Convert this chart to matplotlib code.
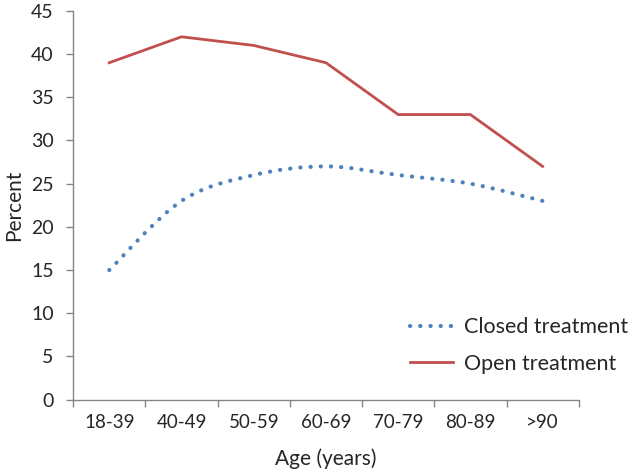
import matplotlib
matplotlib.use("Agg")
import matplotlib.pyplot as plt
from matplotlib.path import Path
from matplotlib.patches import PathPatch
from matplotlib.lines import Line2D
import numpy as np

categories = ["18-39", "40-49", "50-59", "60-69", "70-79", "80-89", ">90"]
closed_treatment = [15, 23, 26, 27, 26, 25, 23]
open_treatment = [39, 42, 41, 39, 33, 33, 27]

plt.rcParams['font.family'] = ['Lato', 'DejaVu Sans']

fig = plt.figure(figsize=(6.36, 4.73), dpi=100)
ax = fig.add_axes([0.115, 0.155, 0.795, 0.822])

x = np.arange(len(categories))
blue = "#4F81BD"
red = "#C0504D"
dotstyle = (0, (0.05, 2.4))

# smoothed bezier path for closed treatment (Excel-style smoothing)
ys = np.array(closed_treatment, dtype=float)
verts = [(x[0], ys[0])]
codes = [Path.MOVETO]
n = len(x)
for i in range(n - 1):
    p0 = np.array([x[max(i - 1, 0)], ys[max(i - 1, 0)]])
    p1 = np.array([x[i], ys[i]])
    p2 = np.array([x[i + 1], ys[i + 1]])
    p3 = np.array([x[min(i + 2, n - 1)], ys[min(i + 2, n - 1)]])
    c1 = p1 + (p2 - p0) / 6.0
    c2 = p2 - (p3 - p1) / 6.0
    verts += [tuple(c1), tuple(c2), tuple(p2)]
    codes += [Path.CURVE4, Path.CURVE4, Path.CURVE4]
patch = PathPatch(Path(verts, codes), facecolor="none", edgecolor=blue,
                  lw=3.0, linestyle=dotstyle)
patch.set_capstyle("round")
ax.add_patch(patch)

ax.plot(x, open_treatment, color=red, lw=2.0, solid_joinstyle="miter")

ax.set_xlim(-0.5, n - 0.5)
ax.set_ylim(0, 45)
ax.set_yticks(np.arange(0, 46, 5))
ax.set_xticks(x)
ax.set_xticklabels(categories)
ax.set_xticks(np.arange(-0.5, n, 1), minor=True)
ax.tick_params(axis="x", which="major", length=0, pad=10, labelsize=13.5, colors="#262626")
ax.tick_params(axis="x", which="minor", length=5, width=1, color="#868686", direction="out")
ax.tick_params(axis="y", length=5, width=1, color="#868686", direction="out", labelsize=14, labelcolor="#262626", pad=9)

for s in ["top", "right"]:
    ax.spines[s].set_visible(False)
for s in ["left", "bottom"]:
    ax.spines[s].set_color("#868686")
    ax.spines[s].set_linewidth(1)

ax.set_xlabel("Age (years)", fontsize=15, color="#262626", labelpad=13)
ax.set_ylabel("Percent", fontsize=15, color="#262626", labelpad=5)

handles = [Line2D([], [], color=blue, lw=3.0, linestyle=dotstyle, dash_capstyle="round"),
           Line2D([], [], color=red, lw=2.0)]
leg = ax.legend(handles, ["Closed treatment", "Open treatment"], loc="lower right",
                bbox_to_anchor=(1.115, 0.045), frameon=False, fontsize=15.5, handlelength=2.0,
                labelspacing=0.75, handletextpad=0.5, borderaxespad=0)
for t in leg.get_texts():
    t.set_color("#262626")

fig.savefig("out.png", dpi=100)
